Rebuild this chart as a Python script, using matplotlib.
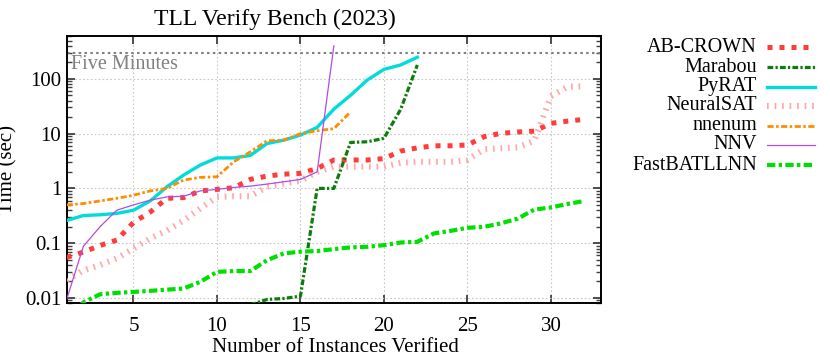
import numpy as np
import matplotlib
matplotlib.use("Agg")
import matplotlib.pyplot as plt
from matplotlib.lines import Line2D
from matplotlib.ticker import LogLocator, FixedLocator, FuncFormatter, NullLocator

plt.rcParams['font.family'] = ['Liberation Serif', 'DejaVu Serif']

# ---------------- data ----------------
ab_x = list(range(1, 33))
ab_y = [0.055, 0.069, 0.091, 0.114, 0.24, 0.37, 0.66, 0.68, 0.90, 0.96,
        1.03, 1.46, 1.68, 1.82, 1.88, 2.3, 3.3, 3.3, 3.3, 3.5,
        4.8, 5.5, 6.0, 6.0, 6.2, 8.8, 10.1, 10.7, 11.1, 15.4, 16.9, 18.2]

marabou_x = list(range(12, 23))
marabou_y = [0.0075, 0.0094, 0.0098, 0.0108, 1.0, 1.0, 6.9, 7.1, 8.2, 27.7, 179]

pyrat_x = list(range(1, 23))
pyrat_y = [0.26, 0.32, 0.33, 0.35, 0.40, 0.59, 1.07, 1.75, 2.67, 3.6,
           3.6, 4.0, 6.6, 7.6, 9.4, 13, 28, 50, 95, 149, 179, 248]

nsat_x = list(range(1, 33))
nsat_y = [0.021, 0.032, 0.040, 0.053, 0.080, 0.122, 0.17, 0.26, 0.43, 0.70,
          0.72, 0.72, 1.07, 1.23, 1.38, 2.0, 2.5, 2.5, 2.5, 2.5,
          2.94, 3.06, 3.06, 3.06, 3.3, 5.2, 5.4, 5.6, 7.4, 48, 72, 73]

nnenum_x = list(range(1, 19))
nnenum_y = [0.50, 0.53, 0.59, 0.66, 0.75, 0.90, 1.0, 1.42, 1.59, 1.63,
            3.06, 4.66, 7.4, 7.6, 10, 11.3, 12.3, 25]

nnv_x = list(range(1, 18))
nnv_y = [0.0095, 0.088, 0.20, 0.40, 0.50, 0.61, 0.70, 0.72, 0.90, 0.96,
         1.04, 1.10, 1.20, 1.32, 1.46, 2.0, 400]

fb_x = list(range(1, 33))
fb_y = [0.004, 0.0083, 0.0117, 0.0124, 0.0129, 0.0135, 0.0142, 0.0149, 0.0197, 0.030,
        0.031, 0.031, 0.049, 0.065, 0.070, 0.072, 0.078, 0.084, 0.086, 0.092,
        0.103, 0.106, 0.151, 0.168, 0.191, 0.199, 0.23, 0.28, 0.41, 0.45, 0.52, 0.59]

five_minutes = 300
x_ticks = [5, 10, 15, 20, 25, 30]
y_ticks = [0.01, 0.1, 1, 10, 100]

labels = ['AB-CROWN', 'Marabou', 'PyRAT', 'NeuralSAT', 'nnenum', 'NNV', 'FastBATLLNN']

# ---------------- styles ----------------
styles = [
    dict(color='#ff3c3c', lw=3.6, dashes=(1.0, 1.4), dash_capstyle='butt'),
    dict(color='#0a7d0a', lw=2.3, dashes=(1.8, 0.7, 0.7, 0.7), dash_capstyle='butt'),
    dict(color='#00dcdc', lw=2.4, linestyle='-'),
    dict(color='#ffa8a8', lw=4.4, dashes=(0.28, 0.95), dash_capstyle='butt'),
    dict(color='#ff8c00', lw=2.0, dashes=(2.2, 0.9, 0.9, 0.9), dash_capstyle='butt'),
    dict(color='#b04de0', lw=0.9, linestyle='-'),
    dict(color='#00e000', lw=3.0, dashes=(2.0, 0.8, 0.8, 0.8), dash_capstyle='butt'),
]
series = [(ab_x, ab_y), (marabou_x, marabou_y), (pyrat_x, pyrat_y), (nsat_x, nsat_y),
          (nnenum_x, nnenum_y), (nnv_x, nnv_y), (fb_x, fb_y)]

W, H = 830, 356
fig = plt.figure(figsize=(W / 100, H / 100), dpi=100)
ax = fig.add_axes([66.7 / W, 1 - 303.3 / H, (601 - 66.7) / W, (303.3 - 36) / H])

ax.set_yscale('log')
ax.set_xlim(1, 33)
ax.set_ylim(0.0080, 605)

ax.grid(True, which='major', color='#c8c8c8', linestyle=(0, (1.5, 2)), lw=0.8)
ax.axhline(five_minutes, color='#808080', lw=1.5, linestyle=(0, (1.2, 1.6)), zorder=2)
ax.text(1.25, 186, 'Five Minutes', color='#808080', fontsize=14.5, va='center', ha='left')

for (xs, ys), st in zip(series, styles):
    ax.plot(xs, ys, zorder=3, **st)

ax.xaxis.set_major_locator(FixedLocator(x_ticks))
ax.xaxis.set_minor_locator(NullLocator())
ax.yaxis.set_major_locator(FixedLocator(y_ticks))
ax.yaxis.set_minor_locator(LogLocator(base=10, subs=np.arange(2, 10), numticks=20))
ax.yaxis.set_major_formatter(FuncFormatter(lambda v, p: ('%g' % v)))
ax.yaxis.set_minor_formatter(FuncFormatter(lambda v, p: ''))

ax.tick_params(which='both', direction='in', top=True, right=True, color='#404040')
ax.tick_params(which='major', length=6, width=1.3, labelsize=15)
ax.tick_params(which='minor', length=3.5, width=1.0)
ax.tick_params(axis='y', which='major', pad=4)
ax.tick_params(axis='x', which='major', pad=10)
for s in ax.spines.values():
    s.set_linewidth(1.4)

fig.text(335 / W, 1 - 348 / H, 'Number of Instances Verified', fontsize=15, ha='center', va='center')
fig.text(8 / W, 1 - 170 / H, 'Time (sec)', rotation=90, fontsize=15, ha='center', va='center')
fig.text(275 / W, 1 - 19 / H, 'TLL Verify Bench (2023)', fontsize=17, ha='center', va='center')

# legend (gnuplot style: right-aligned text, sample to the right)
leg_y = [47, 67, 87, 106, 126, 145, 165]
for lab, st, yp in zip(labels, styles, leg_y):
    fy = 1 - yp / H
    fig.text(757 / W, fy, lab, fontsize=14.5, ha='right', va='center')
    fig.add_artist(Line2D([767 / W, 815 / W], [fy, fy], transform=fig.transFigure, **st))

fig.savefig('out.png', dpi=100)
